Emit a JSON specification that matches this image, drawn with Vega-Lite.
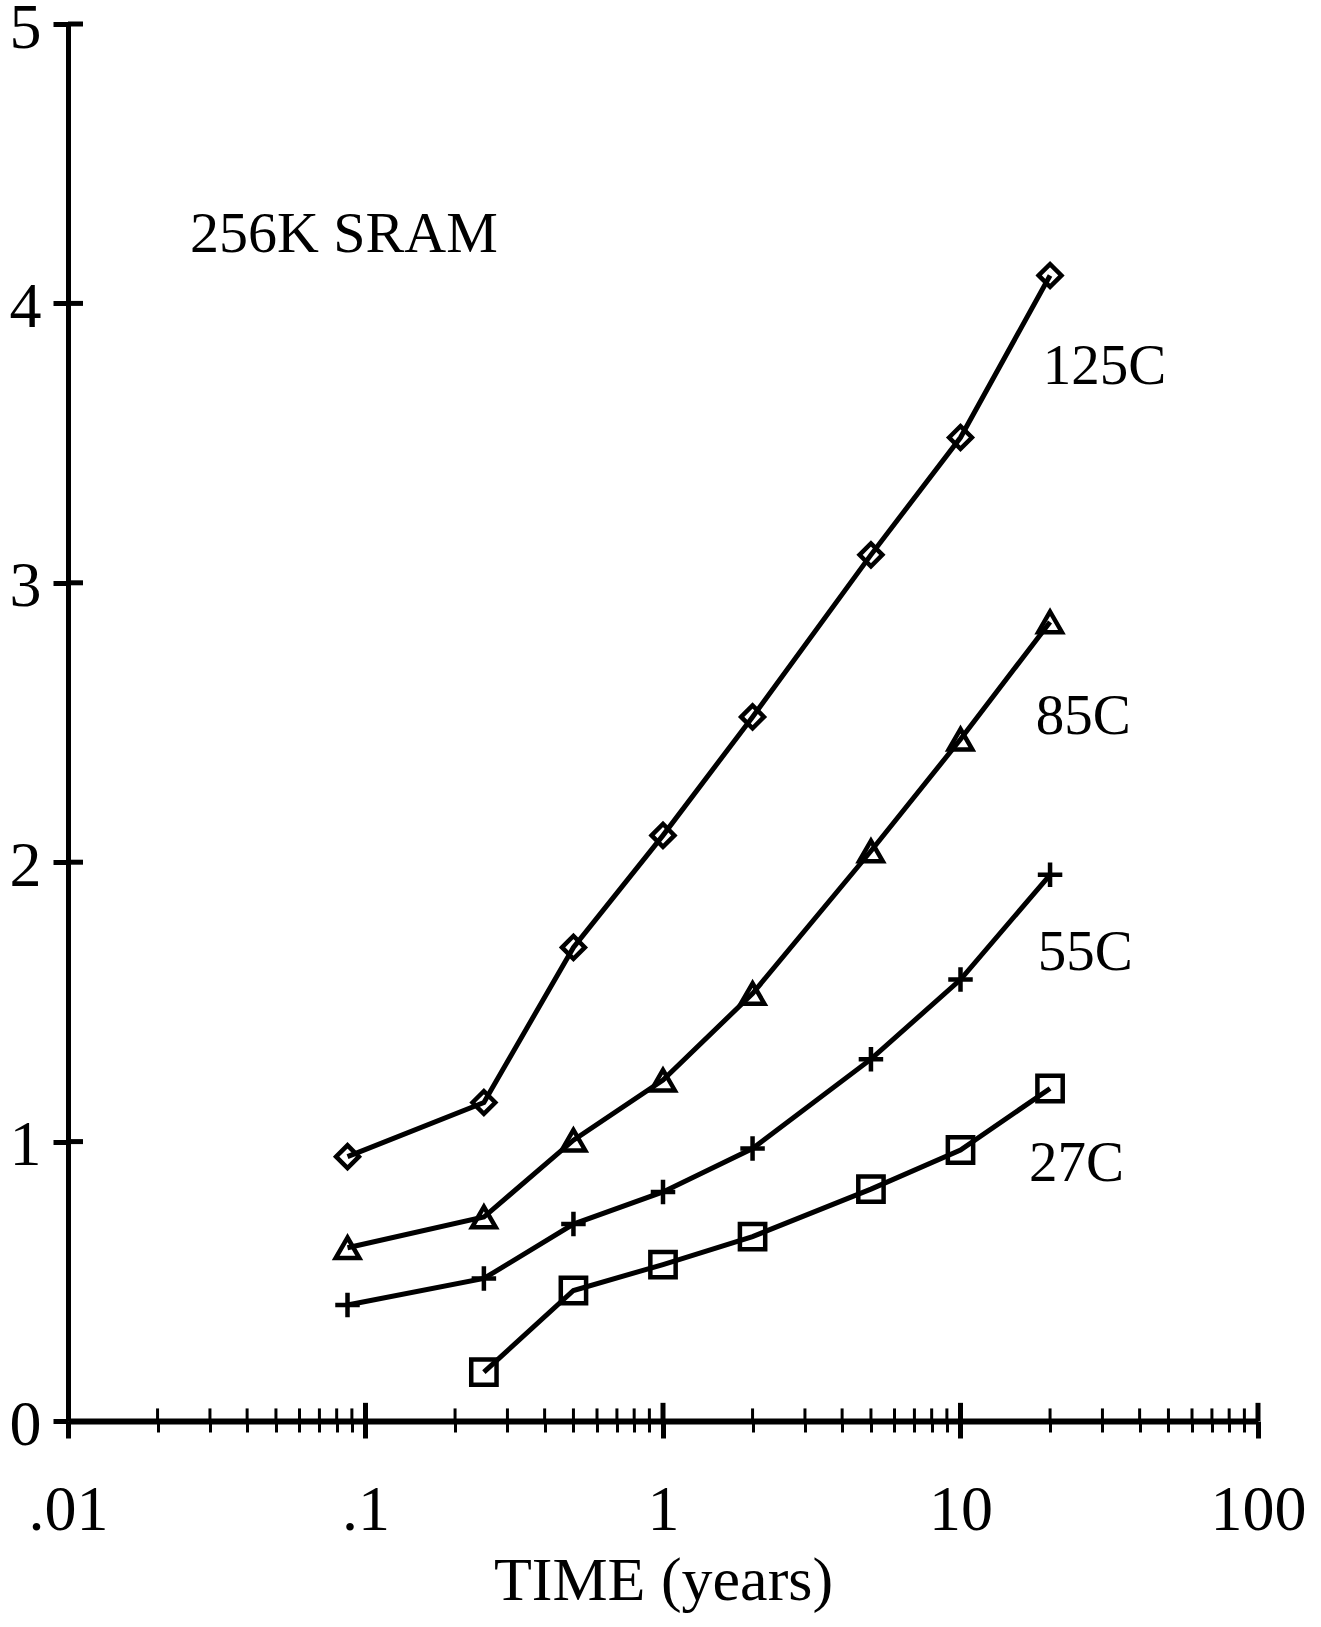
{
  "$schema": "https://vega.github.io/schema/vega-lite/v6.json",
  "width": 1190,
  "height": 1397,
  "autosize": {"type": "none"},
  "padding": {"left": 68, "top": 24, "right": 63, "bottom": 206},
  "background": "white",
  "config": {
    "view": {"stroke": null},
    "font": "Liberation Serif"
  },
  "datasets": {
    "curves": [
      {"series": "125C", "t": 0.087, "v": 0.946},
      {"series": "125C", "t": 0.25, "v": 1.14},
      {"series": "125C", "t": 0.5, "v": 1.695},
      {"series": "125C", "t": 1, "v": 2.096},
      {"series": "125C", "t": 2, "v": 2.52},
      {"series": "125C", "t": 5, "v": 3.10},
      {"series": "125C", "t": 10, "v": 3.52},
      {"series": "125C", "t": 20, "v": 4.10},
      {"series": "85C", "t": 0.087, "v": 0.62},
      {"series": "85C", "t": 0.25, "v": 0.73},
      {"series": "85C", "t": 0.5, "v": 1.005},
      {"series": "85C", "t": 1, "v": 1.22},
      {"series": "85C", "t": 2, "v": 1.53},
      {"series": "85C", "t": 5, "v": 2.04},
      {"series": "85C", "t": 10, "v": 2.44},
      {"series": "85C", "t": 20, "v": 2.86},
      {"series": "55C", "t": 0.087, "v": 0.415},
      {"series": "55C", "t": 0.25, "v": 0.51},
      {"series": "55C", "t": 0.5, "v": 0.705},
      {"series": "55C", "t": 1, "v": 0.82},
      {"series": "55C", "t": 2, "v": 0.975},
      {"series": "55C", "t": 5, "v": 1.295},
      {"series": "55C", "t": 10, "v": 1.58},
      {"series": "55C", "t": 20, "v": 1.955},
      {"series": "27C", "t": 0.25, "v": 0.175},
      {"series": "27C", "t": 0.5, "v": 0.467},
      {"series": "27C", "t": 1, "v": 0.56},
      {"series": "27C", "t": 2, "v": 0.66},
      {"series": "27C", "t": 5, "v": 0.83},
      {"series": "27C", "t": 10, "v": 0.97},
      {"series": "27C", "t": 20, "v": 1.19}
    ],
    "xminor": [
      {"t": 0.02}, {"t": 0.03}, {"t": 0.04}, {"t": 0.05}, {"t": 0.06}, {"t": 0.07}, {"t": 0.08}, {"t": 0.09},
      {"t": 0.2}, {"t": 0.3}, {"t": 0.4}, {"t": 0.5}, {"t": 0.6}, {"t": 0.7}, {"t": 0.8}, {"t": 0.9},
      {"t": 2}, {"t": 3}, {"t": 4}, {"t": 5}, {"t": 6}, {"t": 7}, {"t": 8}, {"t": 9},
      {"t": 20}, {"t": 30}, {"t": 40}, {"t": 50}, {"t": 60}, {"t": 70}, {"t": 80}, {"t": 90}
    ],
    "xmajor": [{"t": 0.1}, {"t": 1}, {"t": 10}, {"t": 100}],
    "yticks": [{"v": 1}, {"v": 2}, {"v": 3}, {"v": 4}, {"v": 5}]
  },
  "layer": [
    {
      "data": {"name": "curves"},
      "mark": {"type": "line", "color": "black", "strokeWidth": 5},
      "encoding": {
        "x": {
          "field": "t", "type": "quantitative",
          "scale": {"type": "log", "domain": [0.01, 100], "nice": false},
          "axis": {
            "orient": "bottom",
            "values": [0.01,0.02,0.03,0.04,0.05,0.06,0.07,0.08,0.09,0.1,0.2,0.3,0.4,0.5,0.6,0.7,0.8,0.9,1,2,3,4,5,6,7,8,9,10,20,30,40,50,60,70,80,90,100],
            "labelExpr": "datum.value==0.01?'.01':datum.value==0.1?'.1':datum.value==1?'1':datum.value==10?'10':datum.value==100?'100':''",
            "labelOverlap": false,
            "labelBound": false,
            "labelFlush": false,
            "labelFont": "Liberation Serif",
            "labelFontSize": 64,
            "labelColor": "black",
            "labelPadding": 40,
            "tickSize": {"condition": {"test": "indexof([0.01,0.1,1,10,100], datum.value) >= 0", "value": 17}, "value": 11},
            "tickWidth": {"condition": {"test": "indexof([0.01,0.1,1,10,100], datum.value) >= 0", "value": 5}, "value": 3},
            "tickColor": "black",
            "domainColor": "black",
            "domainWidth": 6,
            "grid": false,
            "title": "TIME (years)",
            "titleFont": "Liberation Serif",
            "titleFontSize": 62,
            "titleFontWeight": "normal",
            "titleColor": "black",
            "titlePadding": 8
          }
        },
        "y": {
          "field": "v", "type": "quantitative",
          "scale": {"domain": [0, 5], "nice": false},
          "axis": {
            "orient": "left",
            "values": [0, 1, 2, 3, 4, 5],
            "format": "d",
            "labelFont": "Liberation Serif",
            "labelFontSize": 64,
            "labelColor": "black",
            "labelPadding": 12,
            "labelOffset": 4,
            "tickSize": 15,
            "tickWidth": 5,
            "tickColor": "black",
            "domainColor": "black",
            "domainWidth": 5,
            "grid": false,
            "title": null
          }
        },
        "detail": {"field": "series"}
      }
    },
    {
      "data": {"name": "curves"},
      "mark": {"type": "point", "filled": false, "stroke": "black", "strokeWidth": 4.5, "opacity": 1},
      "encoding": {
        "x": {"field": "t", "type": "quantitative"},
        "y": {"field": "v", "type": "quantitative"},
        "shape": {
          "field": "series", "type": "nominal",
          "scale": {"domain": ["125C", "85C", "55C", "27C"], "range": ["diamond", "triangle-up", "M-1,0L1,0M0,-1L0,1", "square"]},
          "legend": null
        },
        "size": {
          "field": "series", "type": "nominal",
          "scale": {"domain": ["125C", "85C", "55C", "27C"], "range": [520, 640, 720, 480]},
          "legend": null
        }
      }
    },
    {
      "data": {"name": "xminor"},
      "mark": {"type": "rule", "color": "black", "strokeWidth": 3, "clip": false},
      "encoding": {
        "x": {"field": "t", "type": "quantitative"},
        "y": {"datum": 0, "type": "quantitative"},
        "y2": {"datum": 0.045}
      }
    },
    {
      "data": {"name": "xmajor"},
      "mark": {"type": "rule", "color": "black", "strokeWidth": 5, "clip": false},
      "encoding": {
        "x": {"field": "t", "type": "quantitative"},
        "y": {"datum": 0, "type": "quantitative"},
        "y2": {"datum": 0.065}
      }
    },
    {
      "data": {"name": "yticks"},
      "mark": {"type": "rule", "color": "black", "strokeWidth": 5, "clip": false},
      "encoding": {
        "x": {"datum": 0.01, "type": "quantitative"},
        "x2": {"datum": 0.01123},
        "y": {"field": "v", "type": "quantitative"}
      }
    },
    {
      "data": {"values": [{"label": "256K SRAM"}]},
      "mark": {"type": "text", "align": "left", "baseline": "alphabetic", "font": "Liberation Serif", "fontSize": 58, "color": "black"},
      "encoding": {
        "x": {"datum": 0.0257, "type": "quantitative"},
        "y": {"datum": 4.184, "type": "quantitative"},
        "text": {"field": "label"}
      }
    },
    {
      "data": {"values": [{"label": "125C"}]},
      "mark": {"type": "text", "align": "left", "baseline": "alphabetic", "font": "Liberation Serif", "fontSize": 57, "color": "black"},
      "encoding": {
        "x": {"datum": 18.9, "type": "quantitative"},
        "y": {"datum": 3.711, "type": "quantitative"},
        "text": {"field": "label"}
      }
    },
    {
      "data": {"values": [{"label": "85C"}]},
      "mark": {"type": "text", "align": "left", "baseline": "alphabetic", "font": "Liberation Serif", "fontSize": 57, "color": "black"},
      "encoding": {
        "x": {"datum": 17.9, "type": "quantitative"},
        "y": {"datum": 2.459, "type": "quantitative"},
        "text": {"field": "label"}
      }
    },
    {
      "data": {"values": [{"label": "55C"}]},
      "mark": {"type": "text", "align": "left", "baseline": "alphabetic", "font": "Liberation Serif", "fontSize": 57, "color": "black"},
      "encoding": {
        "x": {"datum": 18.2, "type": "quantitative"},
        "y": {"datum": 1.614, "type": "quantitative"},
        "text": {"field": "label"}
      }
    },
    {
      "data": {"values": [{"label": "27C"}]},
      "mark": {"type": "text", "align": "left", "baseline": "alphabetic", "font": "Liberation Serif", "fontSize": 57, "color": "black"},
      "encoding": {
        "x": {"datum": 17.0, "type": "quantitative"},
        "y": {"datum": 0.859, "type": "quantitative"},
        "text": {"field": "label"}
      }
    }
  ]
}
